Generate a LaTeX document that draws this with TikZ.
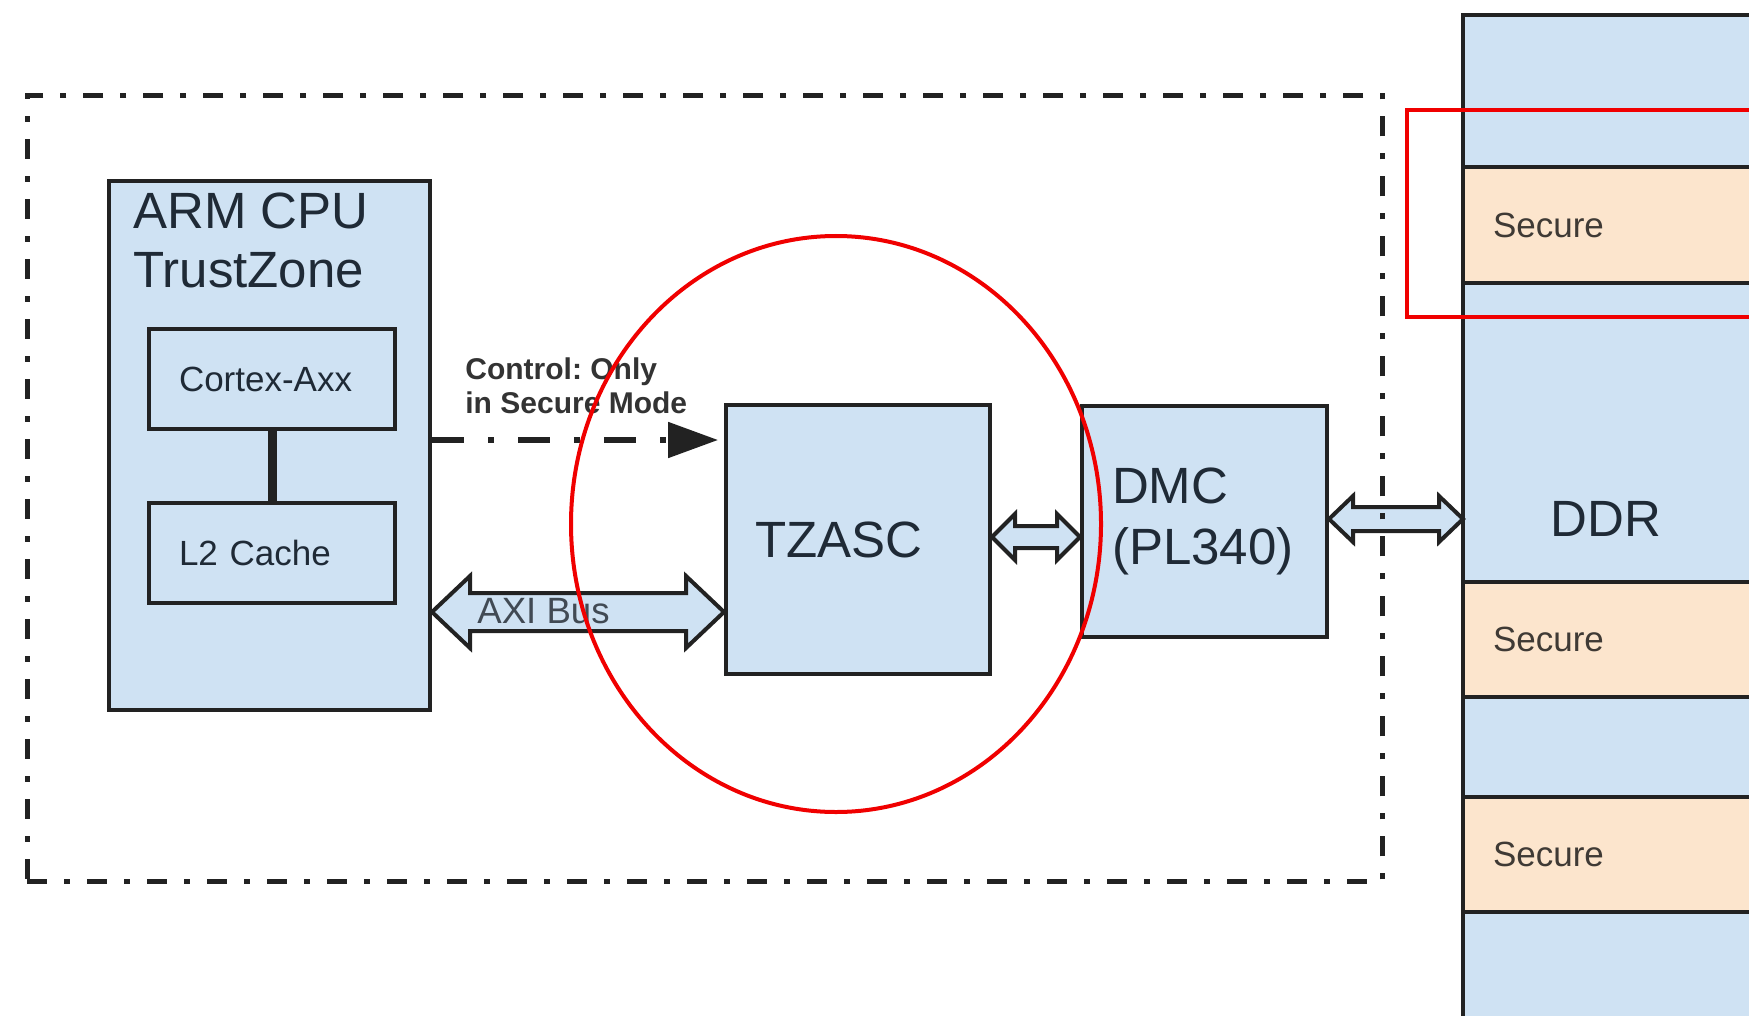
\documentclass[tikz,border=0pt]{standalone}
\usepackage{fontspec}
\setmainfont{Liberation Sans}
\usetikzlibrary{arrows.meta,positioning,calc,shapes.geometric}

\definecolor{chipblue}{HTML}{CFE2F3}
\definecolor{secfill}{HTML}{FCE5CD}
\definecolor{edge}{HTML}{222222}
\definecolor{ink}{HTML}{1F2A36}
\definecolor{secink}{HTML}{3F3A35}
\definecolor{markred}{HTML}{F00000}

% fat two-headed bus arrow: from, to, shaft half, head half, head length
\newcommand{\busarrow}[5]{%
  \draw[bus] (#1) -- ++(#5,-#4) -- ++(0,#4-#3) -- ($(#2)+(-#5,-#3)$) -- ++(0,#3-#4)
    -- (#2) -- ++(-#5,#4) -- ++(0,#3-#4) -- ($(#1)+(#5,#3)$) -- ++(0,#4-#3) -- cycle;}

\begin{document}
\frenchspacing
\begin{tikzpicture}[
  x=0.5pt, y=-0.5pt,
  >=Latex,
  big/.style={font=\fontsize{25.5}{29.5}\selectfont, text=ink},
  mid/.style={font=\fontsize{17.5}{21}\selectfont, text=ink},
  blk/.style={draw=edge, line width=2pt, fill=chipblue, align=left, inner ysep=0pt},
  seg/.style={draw=edge, line width=2.2pt, fill=chipblue, outer sep=0pt, minimum width=163.5pt,
    text width=133.5pt, inner xsep=15pt, inner ysep=0pt, align=left, mid, text=secink},
  sec/.style={seg, fill=secfill},
  bus/.style={draw=edge, line width=2pt, fill=chipblue, line join=miter},
  ctrl/.style={draw=edge, line width=2.6pt, dash pattern=on 16pt off 12pt on 3pt off 12pt,
    -{Triangle[length=25pt, width=17.5pt]}, shorten >=3pt},
  zone/.style={draw=edge, line width=2.4pt, dash pattern=on 10pt off 8.5pt on 3pt off 8.5pt},
  hl/.style={draw=markred, line width=2pt},
  note/.style={font=\bfseries\fontsize{15}{17}\selectfont, text=black!80, align=left}
]
\path[use as bounding box, clip] (0,0) rectangle (1749,1016);
\fill[white] (0,0) rectangle (1749,1016);

% SoC side
\node[blk, anchor=north west, minimum width=160.5pt, minimum height=264.5pt] (cpu) at (107,179) {};
\node[big, anchor=north west, inner sep=0pt, align=left] (cputitle) at ([shift={(26,13)}]cpu.north west) {ARM CPU\\TrustZone};

\node[blk, mid, anchor=north west, minimum width=123pt, minimum height=50pt,
  text width=93pt, inner xsep=15pt] (cortex) at (147,327) {Cortex-Axx};
\node[blk, mid, below=35pt of cortex, minimum width=123pt, minimum height=50pt,
  text width=93pt, inner xsep=15pt] (l2) {L2 Cache};
\draw[draw=edge, line width=4.5pt] (cortex) -- (l2);

\node[blk, big, anchor=north west, minimum width=132pt, minimum height=134.5pt,
  text width=103pt, inner xsep=14.5pt] (tzasc) at (724,403) {TZASC};
\node[blk, big, anchor=north west, minimum width=122.5pt, minimum height=115.5pt,
  text width=92.5pt, inner xsep=15pt, font=\fontsize{25.5}{30.5}\selectfont] (dmc) at (1080,404) {DMC\\(PL340)};

% memory map
\node[seg, anchor=north west, minimum height=76pt] (mem0) at (1463,15) {};
\node[sec, below=0pt of mem0, minimum height=58pt] (sec0) {Secure};
\node[seg, below=0pt of sec0, minimum height=149.5pt] (mem1) {};
\node[sec, below=0pt of mem1, minimum height=57.5pt] (sec1) {Secure};
\node[seg, below=0pt of sec1, minimum height=50pt] (mem2) {};
\node[sec, below=0pt of mem2, minimum height=57.5pt] (sec2) {Secure};
\node[seg, below=0pt of sec2, minimum height=60pt] (mem3) {};
\node[big, anchor=base west, inner sep=0pt] (ddr) at ([shift={(87,253)}]mem1.north west) {DDR};

% connections
\node[note, anchor=north west, inner sep=0pt] (ctrlnote) at (465,357) {Control: Only\\in Secure Mode};
\draw[ctrl] (cpu.east |- 0,440) -- (tzasc.west |- 0,440);

\busarrow{cpu.east |- 0,612}{tzasc.west |- 0,612}{19}{36}{38}
\node[font=\fontsize{18.3}{20}\selectfont, text=ink!85, anchor=base west, inner sep=0pt] (axi) at (477,623) {AXI Bus};
\busarrow{tzasc.east |- 0,537}{dmc.west |- 0,537}{11}{23}{23}
\busarrow{dmc.east |- 0,519}{mem1.west |- 0,519}{12}{23}{24}

\node[zone, anchor=north west, minimum width=677.5pt, minimum height=393pt] (soc) at (25,93) {};

% highlights
\node[hl, ellipse, inner sep=0pt, minimum width=265pt, minimum height=288pt] (focus) at (836,524) {};
\node[hl, anchor=north west, minimum width=200pt, minimum height=103.5pt] (secmark) at (1405,108) {};

\end{tikzpicture}
\end{document}
